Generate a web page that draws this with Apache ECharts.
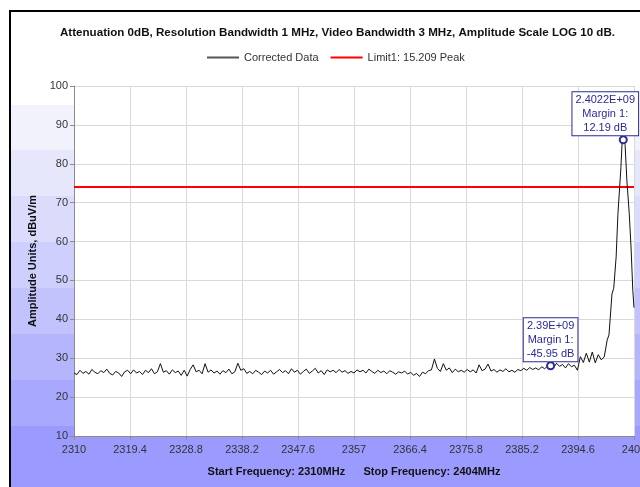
<!DOCTYPE html>
<html>
<head>
<meta charset="utf-8">
<title>Spectrum scan 2310-2404 MHz</title>
<script src="https://cdn.jsdelivr.net/npm/echarts@6/dist/echarts.min.js"></script>
<style>
  html, body { margin: 0; padding: 0; background: #fff; }
  #chart {
    position: absolute;
    left: 9px;
    top: 10px;
    width: 629px;
    height: 475px;
    border-left: 2px solid #000;
    border-top: 2px solid #000;
  }
</style>
</head>
<body>
<div id="chart"></div>
<script>
const START_MHZ = 2310
const STOP_MHZ = 2404
const SWEEP_STEP = 0.5

// sweep 2310 .. 2399 MHz, 0.5 MHz apart (dBuV/m)
const noiseLevels = [
  26.2, 25.8, 26.9, 26.1, 26.6, 25.9, 27.1, 26.4, 26.0, 26.8,
  26.3, 27.2, 26.1, 25.7, 26.6, 26.2, 25.3, 26.5, 26.9, 26.0,
  27.0, 26.2, 26.6, 25.8, 26.9, 26.3, 27.3, 26.0, 26.5, 28.6,
  26.4, 26.8, 25.9, 27.0, 26.3, 26.7, 25.6, 26.9, 25.4, 27.1,
  28.3, 26.5, 26.9, 26.0, 28.6, 26.4, 27.0, 26.2, 26.7, 25.9,
  26.8, 26.3, 27.2, 26.0, 26.5, 28.7, 26.9, 27.3, 26.1, 26.6,
  26.0, 26.9, 26.4, 25.8, 26.7, 26.2, 26.9, 25.9, 26.5, 27.1,
  26.3, 26.8, 26.0, 27.3, 26.4, 26.9, 25.9, 26.6, 27.2, 26.1,
  26.7, 27.4, 26.2, 26.8, 25.8, 27.0, 26.5, 26.9, 26.3, 27.1,
  26.4, 26.8, 26.1, 26.6, 26.2, 27.0, 26.5, 26.9, 26.2, 27.2,
  26.6, 26.1, 26.9, 26.3, 26.7, 26.0, 26.8, 26.4, 25.9, 26.5,
  26.2, 26.7, 25.9, 26.4, 25.6, 26.1, 25.3, 26.4, 26.0, 26.8,
  27.0, 29.8, 27.4, 26.6, 28.6, 26.9, 27.5, 26.3, 27.2, 26.5,
  26.9, 26.4, 27.1, 26.5, 27.0, 26.2, 28.3, 26.8, 27.2, 28.5,
  26.7, 27.1, 26.4, 27.0, 26.6, 27.3, 26.5, 26.9, 26.4, 27.1,
  26.8, 27.4, 26.9, 27.6, 27.1, 27.5, 27.0, 27.8, 27.3, 28.0,
  28.05, 27.6, 28.7, 27.9, 28.4, 27.5, 28.6, 27.8, 28.2, 26.9,
  30.4, 28.9, 31.3, 29.0, 31.6, 28.8, 30.9, 29.6, 30.3
]

// the carrier at the top end of the span
const peakFreqs = [2399.3, 2399.5, 2399.8, 2400.3, 2400.5, 2400.6, 2401.0, 2401.3, 2401.8, 2402.0, 2402.2, 2402.5, 2402.8, 2403.2, 2403.5, 2403.8, 2403.9, 2404.0]
const peakLevels = [30.6, 34.7, 36.0, 46.5, 46.9, 48.0, 56.0, 67.0, 79.0, 85.4, 86.19, 85.0, 75.8, 67.3, 58.6, 47.5, 47.0, 43.0]

const limitFreqs = [2310, 2404]
const limitLevels = [74, 74]

const markerFreqs = [2402.2, 2390]
const markerLevels = [86.19, 28.05]
const markerTexts = ['2.4022E+09\nMargin 1:\n12.19 dB', '2.39E+09\nMargin 1:\n-45.95 dB']

const xTickLabels = ['2310', '2319.4', '2328.8', '2338.2', '2347.6', '2357', '2366.4', '2375.8', '2385.2', '2394.6', '2404']

const FONT = 'Liberation Sans, Arial, sans-serif'
const NAVY = '#2b2b99'

// x is plotted as offset from the start frequency so ticks fall on 9.4 MHz steps
const toX = f => +(f - START_MHZ).toFixed(3)

const tracePoints = noiseLevels
  .map((v, i) => [toX(START_MHZ + i * SWEEP_STEP), v])
  .concat(peakFreqs.map((f, i) => [toX(f), peakLevels[i]]))

const limitPoints = limitFreqs.map((f, i) => [toX(f), limitLevels[i]])

// banded blue backdrop, lighter towards the top
const bandEdges = [0, 0.196, 0.291, 0.387, 0.484, 0.581, 0.678, 0.775, 0.872, 1]
const bandColors = ['#ffffff', '#f2f2fd', '#e7e7fc', '#dbdbfc', '#cfcffd', '#c2c2fd', '#b5b5fe', '#a8a8fe', '#9b9bff']
const bgStops = []
bandColors.forEach((c, i) => {
  bgStops.push({ offset: bandEdges[i], color: c })
  bgStops.push({ offset: bandEdges[i + 1], color: c })
})

const chart = echarts.init(document.getElementById('chart'))

chart.setOption({
  animation: false,
  backgroundColor: { type: 'linear', x: 0, y: 0, x2: 0, y2: 1, colorStops: bgStops },
  title: {
    text: 'Attenuation 0dB, Resolution Bandwidth 1 MHz, Video Bandwidth 3 MHz, Amplitude Scale LOG 10 dB.',
    left: 49,
    top: 15,
    padding: 0,
    textStyle: { fontFamily: FONT, fontSize: 11.6, fontWeight: 'bold', color: '#111' }
  },
  legend: {
    left: 196,
    top: 40,
    padding: 0,
    icon: 'rect',
    itemWidth: 32,
    itemHeight: 2,
    itemGap: 12,
    textStyle: { fontFamily: FONT, fontSize: 11, color: '#333' },
    data: [
      { name: 'Corrected Data', itemStyle: { color: '#555' } },
      { name: 'Limit1: 15.209 Peak', itemStyle: { color: '#ff0000' } }
    ]
  },
  grid: {
    left: 63,
    right: 6,
    top: 74,
    bottom: 51,
    outerBoundsMode: 'none',
    show: true,
    backgroundColor: '#fff',
    borderWidth: 0
  },
  xAxis: {
    type: 'value',
    min: 0,
    max: STOP_MHZ - START_MHZ,
    interval: 9.4,
    name: 'Start Frequency: 2310MHz      Stop Frequency: 2404MHz',
    nameLocation: 'middle',
    nameGap: 30,
    nameTextStyle: { fontFamily: FONT, fontSize: 11, fontWeight: 'bold', color: '#111' },
    axisLine: { lineStyle: { color: '#8c8c8c', width: 1 } },
    axisTick: { show: true, length: 4, lineStyle: { color: '#8c8c8c' } },
    axisLabel: {
      margin: 8,
      fontFamily: FONT,
      fontSize: 11,
      color: '#333',
      showMinLabel: true,
      showMaxLabel: true,
      formatter: (v, i) => xTickLabels[i] ?? ''
    },
    splitLine: { show: true, lineStyle: { color: '#d9d9d9', width: 1 } }
  },
  yAxis: {
    type: 'value',
    min: 10,
    max: 100,
    interval: 10,
    name: 'Amplitude Units, dBuV/m',
    nameLocation: 'middle',
    nameGap: 34,
    nameTextStyle: { fontFamily: FONT, fontSize: 11, fontWeight: 'bold', color: '#111' },
    axisLine: { show: true, lineStyle: { color: '#8c8c8c', width: 1 } },
    axisTick: { show: true, length: 4, lineStyle: { color: '#8c8c8c' } },
    axisLabel: { margin: 6, fontFamily: FONT, fontSize: 11, color: '#333' },
    splitLine: { show: true, lineStyle: { color: '#d9d9d9', width: 1 } }
  },
  series: [
    {
      name: 'Corrected Data',
      type: 'line',
      data: tracePoints,
      showSymbol: false,
      symbol: 'none',
      lineStyle: { color: '#111', width: 1 },
      itemStyle: { color: '#111' },
      z: 3,
      markPoint: {
        symbol: 'emptyCircle',
        symbolSize: 7,
        itemStyle: { color: NAVY, borderColor: NAVY, borderWidth: 1 },
        label: {
          show: true,
          position: 'top',
          distance: 0,
          fontFamily: FONT,
          fontSize: 11,
          lineHeight: 14,
          color: NAVY,
          backgroundColor: '#fff',
          borderColor: NAVY,
          borderWidth: 1,
          padding: [1, 3, 0, 3],
          align: 'center'
        },
        data: markerFreqs.map((f, i) => ({
          coord: [toX(f), markerLevels[i]],
          value: markerTexts[i],
          label: { formatter: markerTexts[i], offset: i === 0 ? [-18, 0] : [0, 0] }
        }))
      }
    },
    {
      name: 'Limit1: 15.209 Peak',
      type: 'line',
      data: limitPoints,
      showSymbol: false,
      symbol: 'none',
      lineStyle: { color: '#ff0000', width: 2 },
      itemStyle: { color: '#ff0000' },
      z: 2
    }
  ]
})
</script>
</body>
</html>
